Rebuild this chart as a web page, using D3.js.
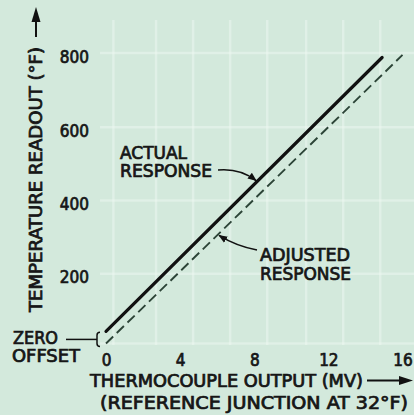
<!DOCTYPE html>
<html>
<head>
<meta charset="utf-8">
<script src="https://cdn.jsdelivr.net/npm/d3@7"></script>
<style>
  html, body { margin: 0; padding: 0; background: #d3e9dc; }
  svg { display: block; }
  text { font-family: "DejaVu Sans Condensed", "DejaVu Sans", sans-serif; font-weight: normal; fill: #161616; stroke: #161616; stroke-width: 0.7px; }
</style>
</head>
<body>
<svg id="chart" width="414" height="415"></svg>
<script>
// Thermocouple output (mV) against temperature readout (°F)
const actualMv = [0, 14.9];
const actualTemp = [53, 800];
const adjustedMv = [0, 16];
const adjustedTemp = [20, 807];

const xTicks = [0, 4, 8, 12, 16];
const yTicks = [200, 400, 600, 800];

// faint printed grid on the paper
const gridMv = [0.4, 2.7, 4.7, 6.7, 8.7, 10.8, 12.8, 14.8];
const gridTemp = [20, 210, 410, 610, 812];

const svg = d3.select("#chart");
const W = 414, H = 415;

const x = d3.scaleLinear().domain([0, 16]).range([106, 402.5]);
const y = d3.scaleLinear().domain([0, 800]).range([350.8, 57.5]);

svg.append("rect").attr("width", W).attr("height", H).attr("fill", "#d3e9dc");

// paper grid
const grid = svg.append("g").attr("stroke", "#eef7f1").attr("stroke-opacity", 0.5).attr("stroke-width", 2.5);
grid.selectAll(".gv").data(gridMv).join("line")
  .attr("x1", d => x(d)).attr("x2", d => x(d))
  .attr("y1", 20).attr("y2", 345);
grid.selectAll(".gh").data(gridTemp).join("line")
  .attr("x1", 100).attr("x2", W)
  .attr("y1", d => y(d)).attr("y2", d => y(d));

// tick labels only (no axis lines)
const xAxis = svg.append("g").attr("transform", "translate(0,354)")
  .call(d3.axisBottom(x).tickValues(xTicks).tickSize(0).tickPadding(0).tickFormat(d3.format("d")));
xAxis.select(".domain").remove();
xAxis.selectAll("text").attr("font-size", 17).attr("font-family", null).attr("fill", "#161616");

const yAxis = svg.append("g").attr("transform", "translate(89,0)")
  .call(d3.axisLeft(y).tickValues(yTicks).tickSize(0).tickPadding(0).tickFormat(d3.format("d")));
yAxis.select(".domain").remove();
yAxis.selectAll("text").attr("font-size", 17).attr("font-family", null).attr("fill", "#161616");

// response lines
const line = d3.line().x(d => x(d[0])).y(d => y(d[1]));
const actual = d3.zip(actualMv, actualTemp);
const adjusted = d3.zip(adjustedMv, adjustedTemp);

svg.append("path").datum(adjusted)
  .attr("d", line).attr("fill", "none")
  .attr("stroke", "#2c4437").attr("stroke-width", 1.9)
  .attr("stroke-dasharray", "10,5");

svg.append("path").datum(actual)
  .attr("d", line).attr("fill", "none")
  .attr("stroke", "#111").attr("stroke-width", 3.2)
  .attr("stroke-linecap", "round");

// arrowhead marker
svg.append("defs").append("marker")
  .attr("id", "head").attr("viewBox", "0 0 10 10")
  .attr("refX", 9).attr("refY", 5)
  .attr("markerWidth", 9).attr("markerHeight", 9)
  .attr("markerUnits", "userSpaceOnUse")
  .attr("orient", "auto")
  .append("path").attr("d", "M0,1 L10,5 L0,9 Z").attr("fill", "#111");

function pointOn(series, mv) {
  const t = (mv - series[0][0]) / (series[1][0] - series[0][0]);
  return [x(mv), y(series[0][1] + t * (series[1][1] - series[0][1]))];
}

const font = 17;
function label(txt, lx, ly, len) {
  svg.append("text").attr("x", lx).attr("y", ly).attr("font-size", font)
    .attr("textLength", len).attr("lengthAdjust", "spacingAndGlyphs").text(txt);
}

// ACTUAL RESPONSE
label("ACTUAL", 120, 158.5, 67);
label("RESPONSE", 120, 177, 92);
const pA = pointOn(actual, 8.15);
svg.append("path")
  .attr("d", `M218,170 Q240,168 ${pA[0] - 1},${pA[1] - 1}`)
  .attr("fill", "none").attr("stroke", "#111").attr("stroke-width", 1.6)
  .attr("marker-end", "url(#head)");

// ADJUSTED RESPONSE
label("ADJUSTED", 260, 260.5, 90);
label("RESPONSE", 260, 280, 91);
const pB = pointOn(adjusted, 6.05);
svg.append("path")
  .attr("d", `M257,250 Q236,246 ${pB[0] + 1},${pB[1] + 1}`)
  .attr("fill", "none").attr("stroke", "#111").attr("stroke-width", 1.6)
  .attr("marker-end", "url(#head)");

// ZERO OFFSET bracket
label("ZERO", 13, 343.5, 45);
label("OFFSET", 12, 362, 68);
const bx = x(0) - 9;
const bTop = y(actualTemp[0]) + 1, bBot = y(adjustedTemp[0]) + 3;
const bMid = (bTop + bBot) / 2;
svg.append("path")
  .attr("d", `M${bx + 3},${bTop} Q${bx},${bTop} ${bx},${bTop + 3} L${bx},${bBot - 3} Q${bx},${bBot} ${bx + 3},${bBot}`)
  .attr("fill", "none").attr("stroke", "#111").attr("stroke-width", 1.5);
svg.append("line").attr("x1", 66).attr("x2", bx).attr("y1", bMid).attr("y2", bMid)
  .attr("stroke", "#111").attr("stroke-width", 1.5);

// axis titles with arrows
svg.append("text")
  .attr("transform", "translate(41.5,312) rotate(-90)")
  .attr("font-size", font).attr("textLength", 265).attr("lengthAdjust", "spacingAndGlyphs")
  .text("TEMPERATURE READOUT (°F)");
svg.append("line").attr("x1", 36).attr("x2", 36).attr("y1", 37).attr("y2", 16)
  .attr("stroke", "#111").attr("stroke-width", 2);
svg.append("path").attr("d", "M36,7 L40.5,22 L31.5,22 Z").attr("fill", "#111");

label("THERMOCOUPLE OUTPUT (MV)", 90, 387, 273);
svg.append("line").attr("x1", 367).attr("x2", 404).attr("y1", 380.5).attr("y2", 380.5)
  .attr("stroke", "#111").attr("stroke-width", 2);
svg.append("path").attr("d", "M413,380.5 L399,376 L399,385 Z").attr("fill", "#111");

label("(REFERENCE JUNCTION AT 32°F)", 100, 409, 308);
</script>
</body>
</html>
